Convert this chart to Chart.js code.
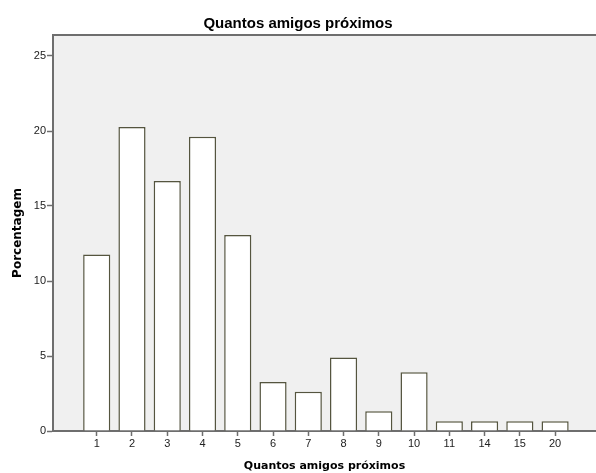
<!DOCTYPE html>
<html>
<head>
<meta charset="utf-8">
<script src="https://cdn.jsdelivr.net/npm/chart.js@4"></script>
<style>
  body { margin: 0; background: #fff; }
</style>
</head>
<body>
<canvas id="chart" width="596" height="473"></canvas>
<script>
const categories = ["1", "2", "3", "4", "5", "6", "7", "8", "9", "10", "11", "14", "15", "20"];
const percentages = [11.76, 20.26, 16.67, 19.61, 13.07, 3.27, 2.61, 4.9, 1.31, 3.92, 0.65, 0.65, 0.65, 0.65];
const yTicks = [0, 5, 10, 15, 20, 25];

const axisColor = "#6e6e6e";

// gray plot background + top border like the SPSS output
const plotBg = {
  id: "plotBg",
  beforeDraw(chart) {
    const a = chart.chartArea;
    const ctx = chart.ctx;
    ctx.save();
    ctx.fillStyle = "#f0f0f0";
    ctx.fillRect(a.left, a.top, a.right - a.left, a.bottom - a.top);
    ctx.strokeStyle = axisColor;
    ctx.lineWidth = 2;
    ctx.beginPath();
    ctx.moveTo(a.left, a.top);
    ctx.lineTo(a.right, a.top);
    ctx.stroke();
    ctx.restore();
  }
};

const ctx = document.getElementById("chart");

new Chart(ctx, {
  type: "bar",
  data: {
    datasets: [
      {
        label: "Porcentagem",
        data: percentages.map((v, i) => ({ x: i, y: v })),
        backgroundColor: "#ffffff",
        borderColor: "#55553f",
        borderWidth: 1.5,
        categoryPercentage: 1,
        barPercentage: 0.77,
      },
    ],
  },
  options: {
    responsive: false,
    animation: false,
    layout: { padding: 0 },
    plugins: {
      legend: { display: false },
      tooltip: { enabled: false },
      title: {
        display: true,
        text: "Quantos amigos próximos",
        color: "#000",
        font: { family: "Liberation Sans", size: 15, weight: "bold" },
        padding: { top: 15, bottom: 2 },
      },
    },
    scales: {
      x: {
        type: "linear",
        offset: false,
        min: -1.24,
        max: 14.16,
        afterBuildTicks: (scale) => {
          scale.ticks = categories.map((c, i) => ({ value: i }));
        },
        afterFit: (scale) => {
          scale.height = 42;
        },
        ticks: {
          callback: (value) => categories[value],
          color: "#222",
          font: { family: "Liberation Sans", size: 11 },
          padding: 1,
          maxRotation: 0,
          autoSkip: false,
        },
        grid: {
          offset: false,
          drawOnChartArea: false,
          tickLength: 5,
          tickColor: axisColor,
          tickWidth: 1.5,
        },
        border: { display: true, color: axisColor, width: 2 },
        title: {
          display: true,
          text: "Quantos amigos próximos",
          color: "#000",
          font: { family: "DejaVu Sans", size: 11, weight: "bold" },
          padding: { top: 0, bottom: 0 },
        },
      },
      y: {
        min: 0,
        max: 26.4,
        afterBuildTicks: (scale) => {
          scale.ticks = yTicks.map((v) => ({ value: v }));
        },
        afterFit: (scale) => {
          scale.width = 53;
        },
        ticks: {
          color: "#222",
          font: { family: "Liberation Sans", size: 11 },
          padding: 1,
        },
        grid: {
          drawOnChartArea: false,
          tickLength: 6,
          tickColor: axisColor,
          tickWidth: 1.5,
        },
        border: { display: true, color: axisColor, width: 2 },
        title: {
          display: true,
          text: "Porcentagem",
          color: "#000",
          font: { family: "DejaVu Sans", size: 12, weight: "bold" },
          padding: { top: 11, bottom: 0 },
        },
      },
    },
  },
  plugins: [plotBg],
});
</script>
</body>
</html>
